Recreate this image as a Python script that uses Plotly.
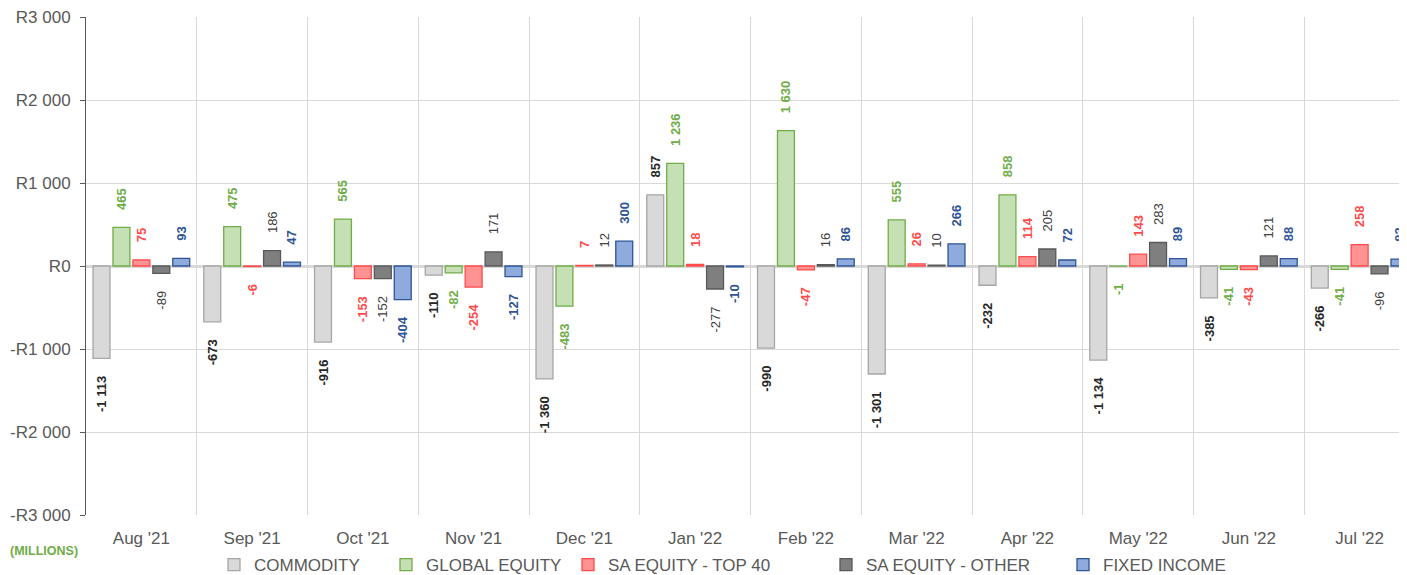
import plotly.graph_objects as go

months = ["Aug '21", "Sep '21", "Oct '21", "Nov '21", "Dec '21", "Jan '22",
          "Feb '22", "Mar '22", "Apr '22", "May '22", "Jun '22", "Jul '22"]

commodity = [-1113, -673, -916, -110, -1360, 857, -990, -1301, -232, -1134, -385, -266]
global_equity = [465, 475, 565, -82, -483, 1236, 1630, 555, 858, -1, -41, -41]
sa_top40 = [75, -6, -153, -254, 7, 18, -47, 26, 114, 143, -43, 258]
sa_other = [-89, 186, -152, 171, 12, -277, 16, 10, 205, 283, 121, -96]
fixed_income = [93, 47, -404, -127, 300, -10, 86, 266, 72, 89, 88, 83]

y_ticks = [-3000, -2000, -1000, 0, 1000, 2000, 3000]

NB = "\u00a0"


def fmt(v):
    return f"{v:,}".replace(",", " ")


def label(v):
    # pad away from the bar end (text reads bottom-to-top)
    s = fmt(v)
    return NB * 4 + s if v >= 0 else s + NB * 4


def ytick(v):
    return ("-" if v < 0 else "") + "R" + fmt(abs(v))


series = [
    ("COMMODITY", commodity, "#d9d9d9", "#a6a6a6", "#262626", True),
    ("GLOBAL EQUITY", global_equity, "#c5e0b4", "#70ad47", "#70ad47", True),
    ("SA EQUITY - TOP 40", sa_top40, "#ff9393", "#ff4b4b", "#ff4b4b", True),
    ("SA EQUITY - OTHER", sa_other, "#7f7f7f", "#595959", "#404040", False),
    ("FIXED INCOME", fixed_income, "#8faadc", "#2f5597", "#2f5597", True),
]

# ---- layout geometry ----
W, H = 1407, 575
ML, MR, MT, MB = 78, 0, 9, 68
PW = W - ML - MR
PH = H - MT - MB
legend_symbol_px = [239, 411, 593, 851, 1088]   # screen x of each legend swatch
legend_y = -50 / PH
FONT = "Liberation Sans, Arial, sans-serif"

fig = go.Figure()
legend_names = ["legend"] + [f"legend{i}" for i in range(2, len(series) + 1)]
for (name, vals, fill, line, tcol, bold), lg in zip(series, legend_names):
    fig.add_trace(go.Bar(
        name=name,
        x=months,
        y=vals,
        legend=lg,
        marker=dict(color=fill, line=dict(color=line, width=1.3)),
        text=[label(v) for v in vals],
        textposition="outside",
        textangle=-90,
        constraintext="none",
        cliponaxis=False,
        textfont=dict(family=FONT, size=13,
                      color=tcol, weight="bold" if bold else "normal"),
        hoverinfo="skip",
    ))

legends = {}
for lg, px in zip(legend_names, legend_symbol_px):
    legends[lg] = dict(
        orientation="h",
        xref="paper", x=(px - 8 - 25 - ML) / PW, xanchor="left",
        yref="paper", y=legend_y, yanchor="middle",
        font=dict(family=FONT, size=17, color="#595959"),
        itemwidth=30,
        bgcolor="rgba(0,0,0,0)",
    )

fig.update_layout(
    width=W,
    height=H,
    margin=dict(l=ML, r=MR, t=MT, b=MB, autoexpand=False),
    paper_bgcolor="white",
    plot_bgcolor="white",
    barmode="group",
    bargap=0.1,
    bargroupgap=0.15,
    font=dict(family=FONT, color="#595959", size=17),
    showlegend=True,
    **legends,
)

fig.update_xaxes(
    type="category",
    range=[-0.5, 11.5],
    tickson="boundaries",
    showgrid=True,
    gridcolor="#d9d9d9",
    gridwidth=1,
    showline=False,
    ticks="",
    ticklabelstandoff=11,
    tickfont=dict(size=17, color="#595959"),
    zeroline=False,
)

fig.update_yaxes(
    range=[-3000, 3000],
    tickvals=y_ticks,
    ticktext=[ytick(v) for v in y_ticks],
    showgrid=True,
    gridcolor="#d9d9d9",
    gridwidth=1,
    zeroline=True,
    zerolinecolor="#d9d9d9",
    zerolinewidth=2.5,
    showline=True,
    linecolor="#595959",
    linewidth=1,
    ticks="outside",
    ticklen=5,
    tickcolor="#595959",
    ticklabelstandoff=6,
    ticklabeloverflow="allow",
    tickfont=dict(size=17, color="#595959"),
)

fig.add_annotation(
    text="<b>(MILLIONS)</b>",
    xref="paper", yref="paper",
    x=0, y=0, xanchor="left", yanchor="middle",
    xshift=-78, yshift=-36,
    showarrow=False,
    font=dict(family=FONT, size=12.5, color="#70ad47"),
)

fig.write_html("out.html")
